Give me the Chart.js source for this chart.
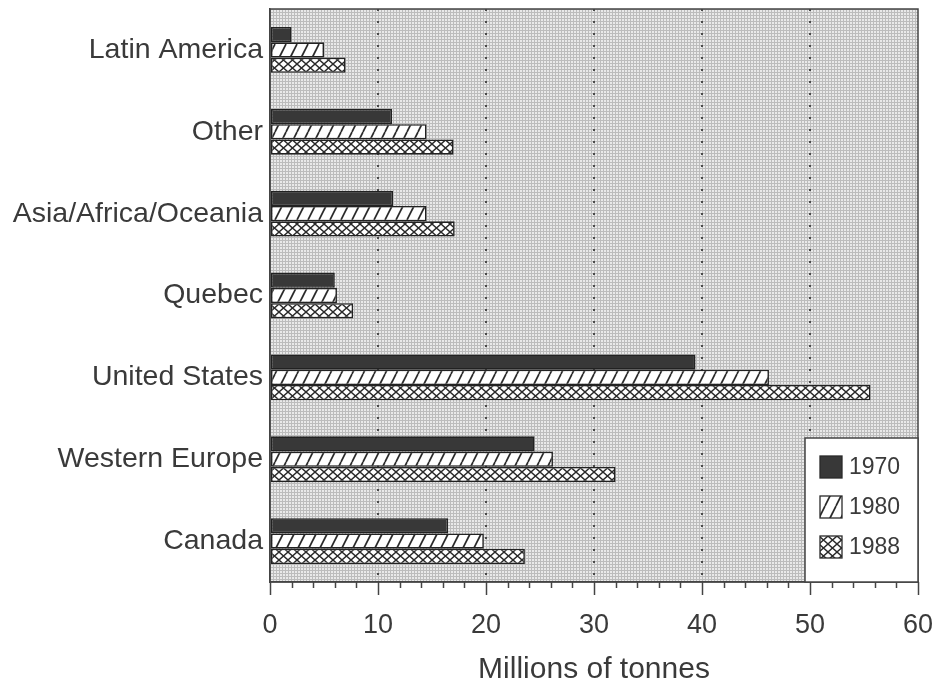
<!DOCTYPE html>
<html>
<head>
<meta charset="utf-8">
<script src="https://cdn.jsdelivr.net/npm/chart.js@4/dist/chart.umd.min.js"></script>
<style>
  html, body { margin: 0; padding: 0; background: #fff; }
  #wrap { width: 938px; height: 688px; }
</style>
</head>
<body>
<div id="wrap"><canvas id="chart" width="938" height="688"></canvas></div>
<script>
// Production by region, millions of tonnes
const regions = ['Latin America', 'Other', 'Asia/Africa/Oceania', 'Quebec', 'United States', 'Western Europe', 'Canada'];
const years = ['1970', '1980', '1988'];
const prod1970 = [2.0, 11.3, 11.4, 6.0, 39.4, 24.5, 16.5];
const prod1980 = [5.0, 14.5, 14.5, 6.2, 46.2, 26.2, 19.8];
const prod1988 = [7.0, 17.0, 17.1, 7.7, 55.6, 32.0, 23.6];
const xTicks = [0, 10, 20, 30, 40, 50, 60];

const FONT = "'Liberation Sans', Arial, Helvetica, sans-serif";
const INK = '#3a3a3a';

// Fill patterns
const makePattern = (w, h, draw) => {
  const c = document.createElement('canvas');
  c.width = w;
  c.height = h;
  const g = c.getContext('2d');
  draw(g, w, h);
  return g.createPattern(c, 'repeat');
};

const dotGrey = makePattern(3, 3, (g) => {
  g.fillStyle = '#e9e9e9';
  g.fillRect(0, 0, 3, 3);
  g.fillStyle = '#bcbcbc';
  g.fillRect(0, 0, 3, 1);
  g.fillRect(0, 0, 1, 3);
});

const slash = makePattern(11, 22, (g, w, h) => {
  g.fillStyle = '#fff';
  g.fillRect(0, 0, w, h);
  g.strokeStyle = '#2a2a2a';
  g.lineWidth = 1.7;
  for (let x = -w; x <= w; x += w) {
    g.beginPath();
    g.moveTo(x, h);
    g.lineTo(x + w, 0);
    g.stroke();
  }
});

const cross = makePattern(9, 8, (g, w, h) => {
  g.fillStyle = '#fff';
  g.fillRect(0, 0, w, h);
  g.strokeStyle = '#2a2a2a';
  g.lineWidth = 1.4;
  g.beginPath();
  g.moveTo(0, 0); g.lineTo(w, h);
  g.moveTo(w, 0); g.lineTo(0, h);
  g.stroke();
});

// Stippled plot background + frame, tick marks and boxed legend
const decorations = {
  id: 'decorations',
  beforeDraw(chart) {
    const { ctx, chartArea: a } = chart;
    ctx.save();
    ctx.fillStyle = dotGrey;
    ctx.fillRect(a.left, a.top, a.right - a.left, a.bottom - a.top);
    ctx.restore();
  },
  afterDatasetsDraw(chart) {
    const { ctx, chartArea: a, scales } = chart;
    ctx.save();
    ctx.strokeStyle = '#444';
    ctx.lineWidth = 1.5;
    ctx.strokeRect(a.left, a.top, a.right - a.left, a.bottom - a.top);
    // tick marks under the x axis: long every 10, short every 2
    const x = scales.x;
    for (let v = 0; v <= 60; v += 2) {
      const px = Math.round(x.getPixelForValue(v)) + 0.5;
      ctx.beginPath();
      ctx.moveTo(px, a.bottom);
      ctx.lineTo(px, a.bottom + (v % 10 === 0 ? 13 : 6));
      ctx.stroke();
    }
    ctx.restore();
  },
  afterDraw(chart) {
    const { ctx, chartArea: a } = chart;
    const w = 113, h = 144;
    const left = a.right - w, top = a.bottom - h;
    ctx.save();
    ctx.fillStyle = '#fff';
    ctx.fillRect(left, top, w, h);
    ctx.strokeStyle = '#444';
    ctx.lineWidth = 1.5;
    ctx.strokeRect(left, top, w, h);
    ctx.font = '23px ' + FONT;
    ctx.textBaseline = 'middle';
    chart.data.datasets.forEach((ds, i) => {
      const cy = top + 29 + i * 40;
      ctx.fillStyle = ds.backgroundColor;
      ctx.fillRect(left + 15, cy - 11, 22, 22);
      ctx.strokeStyle = '#2a2a2a';
      ctx.lineWidth = 1.3;
      ctx.strokeRect(left + 15, cy - 11, 22, 22);
      ctx.fillStyle = INK;
      ctx.fillText(ds.label, left + 44, cy + 1);
    });
    ctx.restore();
  }
};

const ctx = document.getElementById('chart').getContext('2d');
const chart = new Chart(ctx, {
  type: 'bar',
  data: {
    labels: regions,
    datasets: [
      { label: years[0], data: prod1970, backgroundColor: '#383838' },
      { label: years[1], data: prod1980, backgroundColor: slash },
      { label: years[2], data: prod1988, backgroundColor: cross }
    ]
  },
  options: {
    indexAxis: 'y',
    responsive: false,
    animation: false,
    layout: { padding: { top: 9, right: 20, bottom: 0, left: 0 } },
    datasets: {
      bar: {
        borderColor: '#222',
        borderWidth: 1.6,
        borderSkipped: false,
        barPercentage: 1,
        categoryPercentage: 0.56
      }
    },
    scales: {
      x: {
        min: 0,
        max: 60,
        afterFit: (scale) => {
          scale.height = 106;
          scale.paddingLeft = 0;
          scale.paddingRight = 0;
        },
        afterBuildTicks: (scale) => {
          // every 2 units so the minor marks line up with a tick
          const t = [];
          for (let v = 0; v <= 60; v += 2) t.push({ value: v });
          scale.ticks = t;
        },
        ticks: {
          autoSkip: false,
          maxRotation: 0,
          padding: 27,
          color: INK,
          font: { family: FONT, size: 27 },
          callback: (v) => (xTicks.includes(v) ? String(v) : '')
        },
        grid: {
          drawTicks: false,
          lineWidth: 2,
          color: (c) => (c.tick && c.tick.value % 10 === 0 && c.tick.value > 0 && c.tick.value < 60 ? '#4a4a4a' : 'rgba(0,0,0,0)')
        },
        border: { display: true, color: '#444', width: 1.5, dash: [2, 10] },
        title: {
          display: true,
          text: 'Millions of tonnes',
          color: INK,
          font: { family: FONT, size: 30 },
          padding: { top: 0, bottom: 0 }
        }
      },
      y: {
        afterFit: (scale) => {
          scale.width = 270;
          scale.paddingTop = 0;
          scale.paddingBottom = 0;
        },
        grid: { display: false, drawTicks: false },
        border: { display: true, color: '#444', width: 1.5 },
        ticks: {
          padding: 7,
          color: INK,
          font: { family: FONT, size: 28.5 }
        }
      }
    },
    plugins: {
      legend: { display: false },
      tooltip: { enabled: false }
    }
  },
  plugins: [decorations]
});
</script>
</body>
</html>
